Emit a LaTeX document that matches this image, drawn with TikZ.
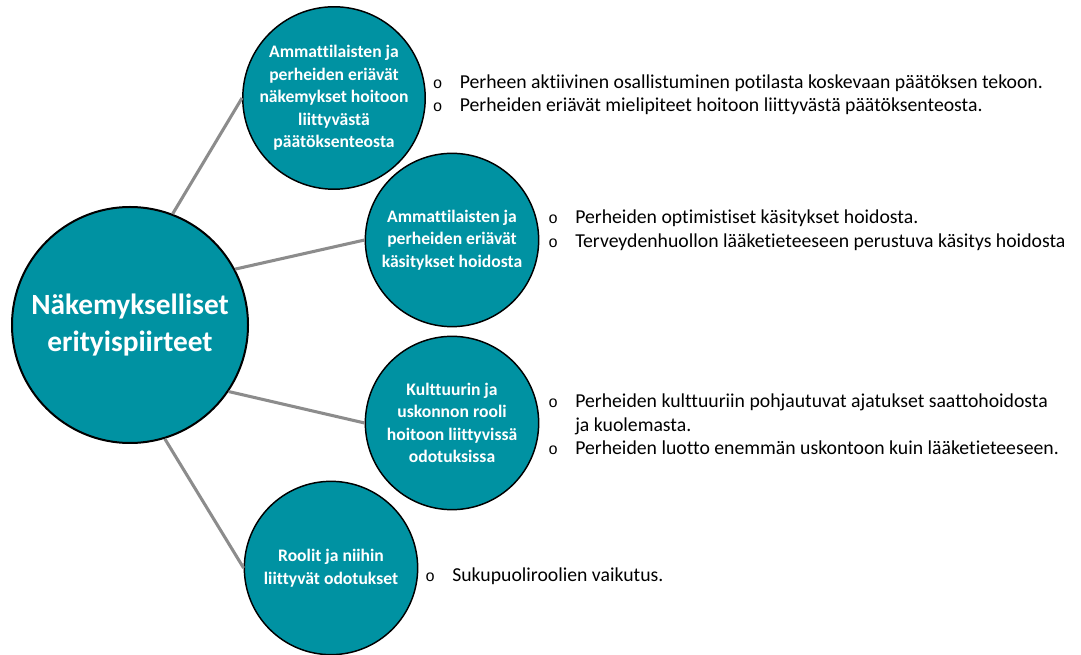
\documentclass[tikz,border=0pt]{standalone}
\usepackage{fontspec}
\setmainfont{Carlito}[Ligatures=NoCommon]
\newfontfamily\bulletfont{Liberation Mono}
\usetikzlibrary{positioning}

\definecolor{themeteal}{RGB}{0,146,162}
\definecolor{spokegray}{RGB}{140,140,140}

\newcommand{\bul}{{\bulletfont\fontsize{12pt}{12pt}\selectfont o}}

\tikzset{
	themebig/.style={circle, draw=black, line width=1.5pt, fill=themeteal, text=white, minimum size=177pt, inner sep=0pt, align=center, font=\fontsize{22pt}{27.5pt}\selectfont\bfseries},
	theme/.style={circle, draw=black, line width=1.1pt, fill=themeteal, text=white, minimum size=130pt, inner sep=0pt, align=center, font=\fontsize{13.2pt}{16.9pt}\selectfont\bfseries},
	spoke/.style={draw=spokegray, line width=2.3pt},
	points/.style={inner sep=0pt, align=left, font=\fontsize{14.8pt}{17.6pt}\selectfont}
}

\begin{document}
\begin{tikzpicture}[x=0.75pt, y=-0.75pt]
	\useasboundingbox (0,0) rectangle (1081,655);
	\node[themebig](main) at (130,325){Näkemykselliset\\erityispiirteet};
	\node[theme](decisions) at (334,98){Ammattilaisten ja\\perheiden eriävät\\näkemykset hoitoon\\liittyvästä\\päätöksenteosta};
	\node[theme](perceptions) at (452,240){Ammattilaisten ja\\perheiden eriävät\\käsitykset hoidosta};
	\node[theme](culture) at (452,423){Kulttuurin ja\\uskonnon rooli\\hoitoon liittyvissä\\odotuksissa};
	\node[theme](roles) at (331,568){Roolit ja niihin\\liittyvät odotukset};
	\path[spoke] (main.69) -- (decisions.west);
	\path[spoke] (main.28) -- (perceptions.west);
	\path[spoke] (main.-34) -- (culture.west);
	\path[spoke] (main.-73) -- (roles.west);
	\node[points, right=5pt of decisions, yshift=1.9pt](decisionslist){%
		\begin{tabular}{@{}l@{\hspace{13pt}}l@{}}
			\bul & Perheen aktiivinen osallistuminen potilasta koskevaan päätöksen tekoon.\\
			\bul & Perheiden eriävät mielipiteet hoitoon liittyvästä päätöksenteosta.
		\end{tabular}};
	\node[points, right=6.5pt of perceptions, yshift=6.75pt](perceptionslist){%
		\begin{tabular}{@{}l@{\hspace{13pt}}l@{}}
			\bul & Perheiden optimistiset käsitykset hoidosta.\\
			\bul & Terveydenhuollon lääketieteeseen perustuva käsitys hoidosta
		\end{tabular}};
	\node[points, right=6.5pt of culture, yshift=-2.5pt](culturelist){%
		\begin{tabular}{@{}l@{\hspace{13pt}}l@{}}
			\bul & Perheiden kulttuuriin pohjautuvat ajatukset saattohoidosta\\
			     & ja kuolemasta.\\
			\bul & Perheiden luotto enemmän uskontoon kuin lääketieteeseen.
		\end{tabular}};
	\node[points, right=5pt of roles, yshift=-6.75pt](roleslist){%
		\begin{tabular}{@{}l@{\hspace{13pt}}l@{}}
			\bul & Sukupuoliroolien vaikutus.
		\end{tabular}};
\end{tikzpicture}
\end{document}
